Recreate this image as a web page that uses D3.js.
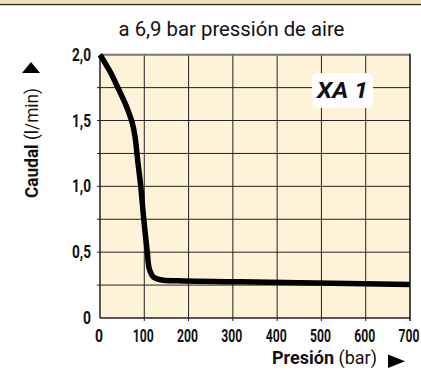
<!DOCTYPE html>
<html><head><meta charset="utf-8">
<script src="https://cdn.jsdelivr.net/npm/d3@7"></script>
<style>html,body{margin:0;padding:0;background:#fff;}svg{display:block;}</style>
</head><body>
<script>
const pressure = [0, 23, 41, 60, 73, 79, 85, 92, 99, 107, 111, 120, 139, 177, 300, 450, 700];
const flow =     [2.0, 1.87, 1.745, 1.605, 1.48, 1.38, 1.2, 1.0, 0.745, 0.49, 0.378, 0.314, 0.289, 0.283, 0.276, 0.268, 0.255];
const xTicks = [0,100,200,300,400,500,600,700];
const yTicks = [0,0.5,1.0,1.5,2.0];
const yGrid = [0.25,0.5,0.75,1.0,1.25,1.5,1.75];
const title = "a 6,9 bar pressión de aire";
const label = "XA 1";

const W=421,H=370;
const font = "'Roboto','Liberation Sans',sans-serif";
const svg = d3.select("body").append("svg").attr("width",W).attr("height",H);

svg.append("rect").attr("x",0).attr("y",0).attr("width",W).attr("height",3).attr("fill","#f3e3b8");
svg.append("line").attr("x1",0).attr("x2",W).attr("y1",4.5).attr("y2",4.5).attr("stroke","#333").attr("stroke-width",1.5);

const x = d3.scaleLinear().domain([0,700]).range([100,410]);
const y = d3.scaleLinear().domain([0,2]).range([318,54.7]);

svg.append("rect").attr("x",x(0)).attr("y",y(2)).attr("width",x(700)-x(0)).attr("height",y(0)-y(2)).attr("fill","#fef3d8");

const g = svg.append("g");
g.selectAll(".hg").data(yGrid).join("line").attr("x1",x(0)-3).attr("x2",x(700)).attr("y1",d=>y(d)).attr("y2",d=>y(d)).attr("stroke","#222").attr("stroke-width",1);
g.selectAll(".vg").data(xTicks.slice(1,-1)).join("line").attr("x1",d=>x(d)).attr("x2",d=>x(d)).attr("y1",y(2)).attr("y2",y(0)+3).attr("stroke","#222").attr("stroke-width",1);
g.append("line").attr("x1",x(0)).attr("x2",x(700)).attr("y1",y(2)).attr("y2",y(2)).attr("stroke","#777").attr("stroke-width",2);
g.append("line").attr("x1",x(0)).attr("x2",x(0)).attr("y1",y(2)).attr("y2",y(0)).attr("stroke","#222").attr("stroke-width",1.5);
g.append("line").attr("x1",x(0)).attr("x2",x(700)).attr("y1",y(0)).attr("y2",y(0)).attr("stroke","#222").attr("stroke-width",1.5);
g.append("line").attr("x1",x(700)).attr("x2",x(700)).attr("y1",y(2)-1).attr("y2",y(0)+3).attr("stroke","#111").attr("stroke-width",1.5);

const pts = pressure.map((p,i)=>[p,flow[i]]);
svg.append("path").datum(pts)
  .attr("d", d3.line().x(d=>x(d[0])).y(d=>y(d[1])).curve(d3.curveCatmullRom.alpha(0.5)))
  .attr("fill","none").attr("stroke","#000").attr("stroke-width",5.5).attr("stroke-linejoin","round").attr("stroke-linecap","butt");

function ctext(parent, cx, cy, anchor, width, size, weight, style, parts, rot){
  const gg = parent.append("g");
  const t = gg.append("text").attr("font-family",font).attr("font-size",size).attr("fill","#111")
    .attr("font-weight",weight||"normal").attr("font-style",style||"normal").attr("text-anchor",anchor);
  parts.forEach(p=>t.append("tspan").attr("font-weight",p.w||null).text(p.t));
  const len = t.node().getComputedTextLength();
  const s = width/len;
  gg.attr("transform",`translate(${cx},${cy})${rot?` rotate(${rot})`:""} scale(${s},1)`);
  return gg;
}

yTicks.forEach(d=>{
  const s = d===0 ? "0" : d3.format(".1f")(d).replace(".",",");
  ctext(svg, 91, y(d)+6, "end", d===0?8:19, 18, "bold", null, [{t:s}]);
});
xTicks.forEach(d=>{
  ctext(svg, x(d)-1, 342, "middle", d===0?8:21, 18, "bold", null, [{t:String(d)}]);
});

ctext(svg, 231.5, 35.5, "middle", 226, 21, "normal", null, [{t:title}]);

ctext(svg, 38, 143, "middle", 110, 19, "normal", null, [{t:"Caudal",w:"bold"},{t:" (l/min)"}], -90);
svg.append("path").attr("d","M22,73 L40,73 L31,62 Z").attr("fill","#000");

ctext(svg, 272, 364, "start", 105, 19, "normal", null, [{t:"Presión",w:"bold"},{t:" (bar)"}]);
svg.append("path").attr("d","M388,354.5 L388,368 L405,361.2 Z").attr("fill","#000");

svg.append("rect").attr("x",312).attr("y",73).attr("width",61).attr("height",35).attr("rx",6).attr("fill","#fff");
ctext(svg, 342.5, 97.5, "middle", 51, 22, "bold", "italic", [{t:label}]);
</script>
</body></html>
